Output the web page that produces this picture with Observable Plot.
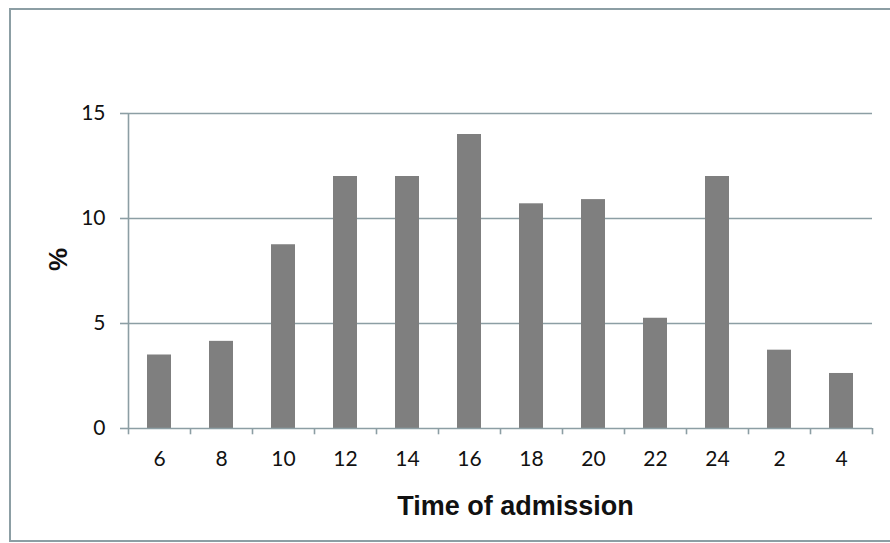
<!DOCTYPE html>
<html>
<head>
<meta charset="utf-8">
<script src="https://cdn.jsdelivr.net/npm/d3@7"></script>
<script src="https://cdn.jsdelivr.net/npm/@observablehq/plot@0.6"></script>
<style>
  html, body { margin: 0; padding: 0; background: #fff; overflow: hidden; }
  #wrap { position: relative; width: 890px; height: 543px; overflow: hidden; }
  #border { position: absolute; left: 9px; top: 8px; width: 890px; height: 534px; border: 2px solid #8c9ea4; box-sizing: border-box; pointer-events: none; }
</style>
</head>
<body>
<div id="wrap"><div id="border"></div></div>
<script>
const times = ["6", "8", "10", "12", "14", "16", "18", "20", "22", "24", "2", "4"];
const percents = [3.5, 4.15, 8.75, 12.0, 12.0, 14.0, 10.7, 10.9, 5.25, 12.0, 3.73, 2.62];
const yTicks = [0, 5, 10, 15];
const xTitle = "Time of admission";
const yTitle = "%";

const data = times.map((t, i) => ({t, v: percents[i]}));
const lineColor = "#8c9ea4";
const W = 890, mL = 128, mR = 18;
const half = (W - mL - mR) / times.length / 2;

const chart = Plot.plot({
  width: W,
  height: 543,
  marginLeft: mL,
  marginRight: mR,
  marginTop: 113,
  marginBottom: 115,
  style: {fontFamily: "Lato, sans-serif", fontSize: "21px", color: "#111", background: "transparent"},
  x: {domain: times, paddingInner: 0.61, paddingOuter: 0.305, label: null},
  y: {domain: [0, 15], label: null},
  marks: [
    Plot.gridY(yTicks.slice(1), {stroke: lineColor, strokeOpacity: 1, strokeWidth: 1.6}),
    Plot.axisY(yTicks, {tickSize: 8, tickPadding: 15, stroke: lineColor, strokeWidth: 1.6, label: null, fill: "#111"}),
    Plot.barY(data, {x: "t", y: "v", fill: "#7f7f7f"}),
    Plot.ruleY([0], {stroke: lineColor, strokeWidth: 1.6}),
    Plot.ruleX(times, {x: d => d, dx: -half, y1: 0, y2: -0.3, stroke: lineColor, strokeWidth: 1.6}),
    Plot.ruleX([times[times.length - 1]], {x: d => d, dx: half, y1: 0, y2: -0.3, stroke: lineColor, strokeWidth: 1.6}),
    Plot.ruleX([times[0]], {x: d => d, dx: -half, y1: 0, y2: 15, stroke: lineColor, strokeWidth: 1.6}),
    Plot.axisX({tickSize: 0, tickPadding: 23, label: null, fill: "#111"}),
    Plot.text([xTitle], {frameAnchor: "bottom", dx: 15, dy: 86, text: d => d, fontFamily: "Liberation Sans, Arial, sans-serif", fontWeight: "bold", fontSize: 27, fill: "#111"}),
    Plot.text([yTitle], {frameAnchor: "left", dx: -70, rotate: -90, text: d => d, fontFamily: "Liberation Sans, Arial, sans-serif", fontWeight: "bold", fontSize: 26, fill: "#111"})
  ]
});
document.getElementById("wrap").prepend(chart);
</script>
</body>
</html>
